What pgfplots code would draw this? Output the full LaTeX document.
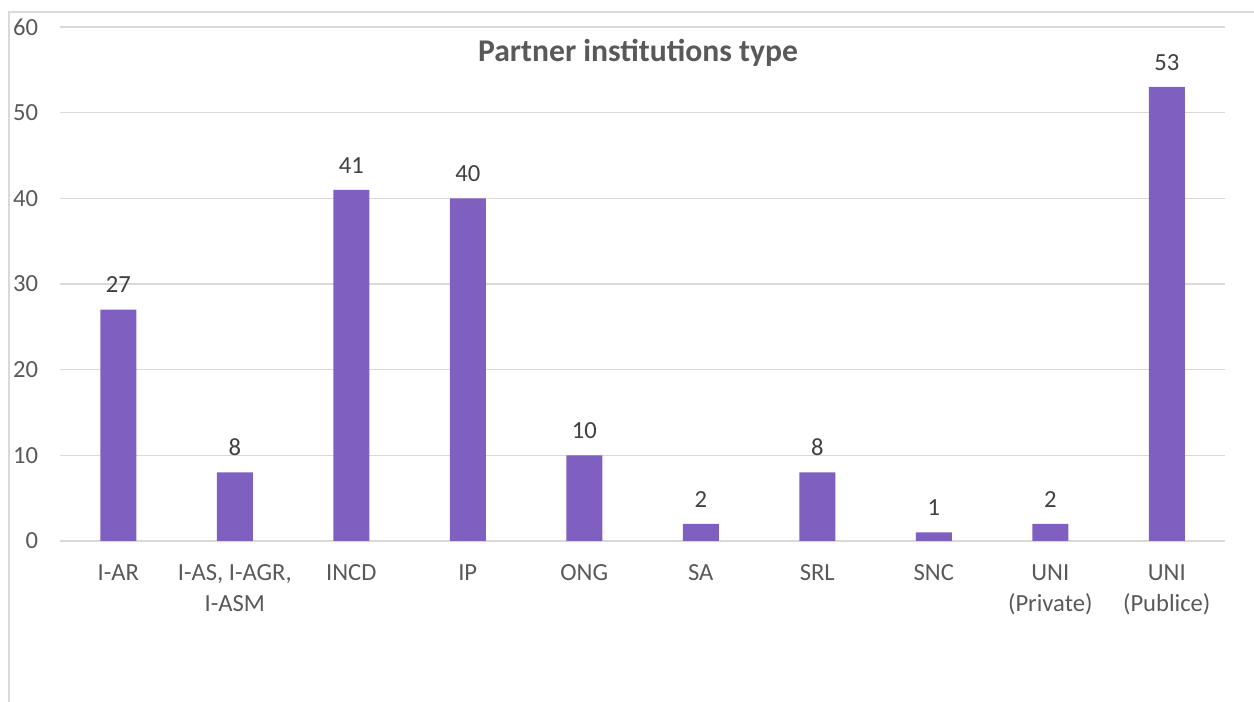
\documentclass[border=0pt]{standalone}
\usepackage{pgfplots}
\pgfplotsset{compat=1.18}
\usepackage{fontspec}
\setmainfont{Carlito}
\definecolor{barc}{HTML}{7F5FBF}
\definecolor{gridc}{HTML}{D9D9D9}
\definecolor{tickc}{HTML}{595959}
\definecolor{labc}{HTML}{404040}
\begin{document}
\begin{tikzpicture}[x=1cm,y=1cm]
\useasboundingbox (-1.2,-3.22) rectangle (23.88,10.82);
\draw[gridc,line width=0.8pt] (-1.02,-3.22) -- (-1.02,10.58) -- (23.88,10.58);
\begin{axis}[at={(0,0)},anchor=south west,scale only axis,width=23.3cm,height=10.28cm,
 ybar,bar width=0.72cm,ymin=0,ymax=60,xmin=-0.5,xmax=9.5,
 ytick={0,10,...,60},xtick=data,
 xticklabels={I-AR,{I-AS, I-AGR,\\I-ASM},INCD,IP,ONG,SA,SRL,SNC,{UNI\\(Private)},{UNI\\(Publice)}},
 x tick label style={align=center,font=\fontsize{14}{17.5}\selectfont,text=tickc,yshift=-10pt},
 y tick label style={font=\fontsize{14}{16}\selectfont,text=tickc,xshift=-9pt},
 /pgf/number format/assume math mode=true,
 axis x line*=bottom,axis y line*=left,
 x axis line style={gridc,line width=0.9pt,-},y axis line style={draw=none},
 ymajorgrids,grid style={gridc,line width=0.9pt},
 major tick length=0pt,
 nodes near coords,point meta=y,
 nodes near coords style={font=\fontsize{14}{16}\selectfont,text=labc,yshift=6pt},
 clip=false]
\addplot[fill=barc,draw=none] coordinates {(0,27) (1,8) (2,41) (3,40) (4,10) (5,2) (6,8) (7,1) (8,2) (9,53)};
\end{axis}
\node[font=\bfseries\fontsize{18}{20}\selectfont,text=tickc] at (11.56,9.76) {Partner institutions type};
\end{tikzpicture}
\end{document}
